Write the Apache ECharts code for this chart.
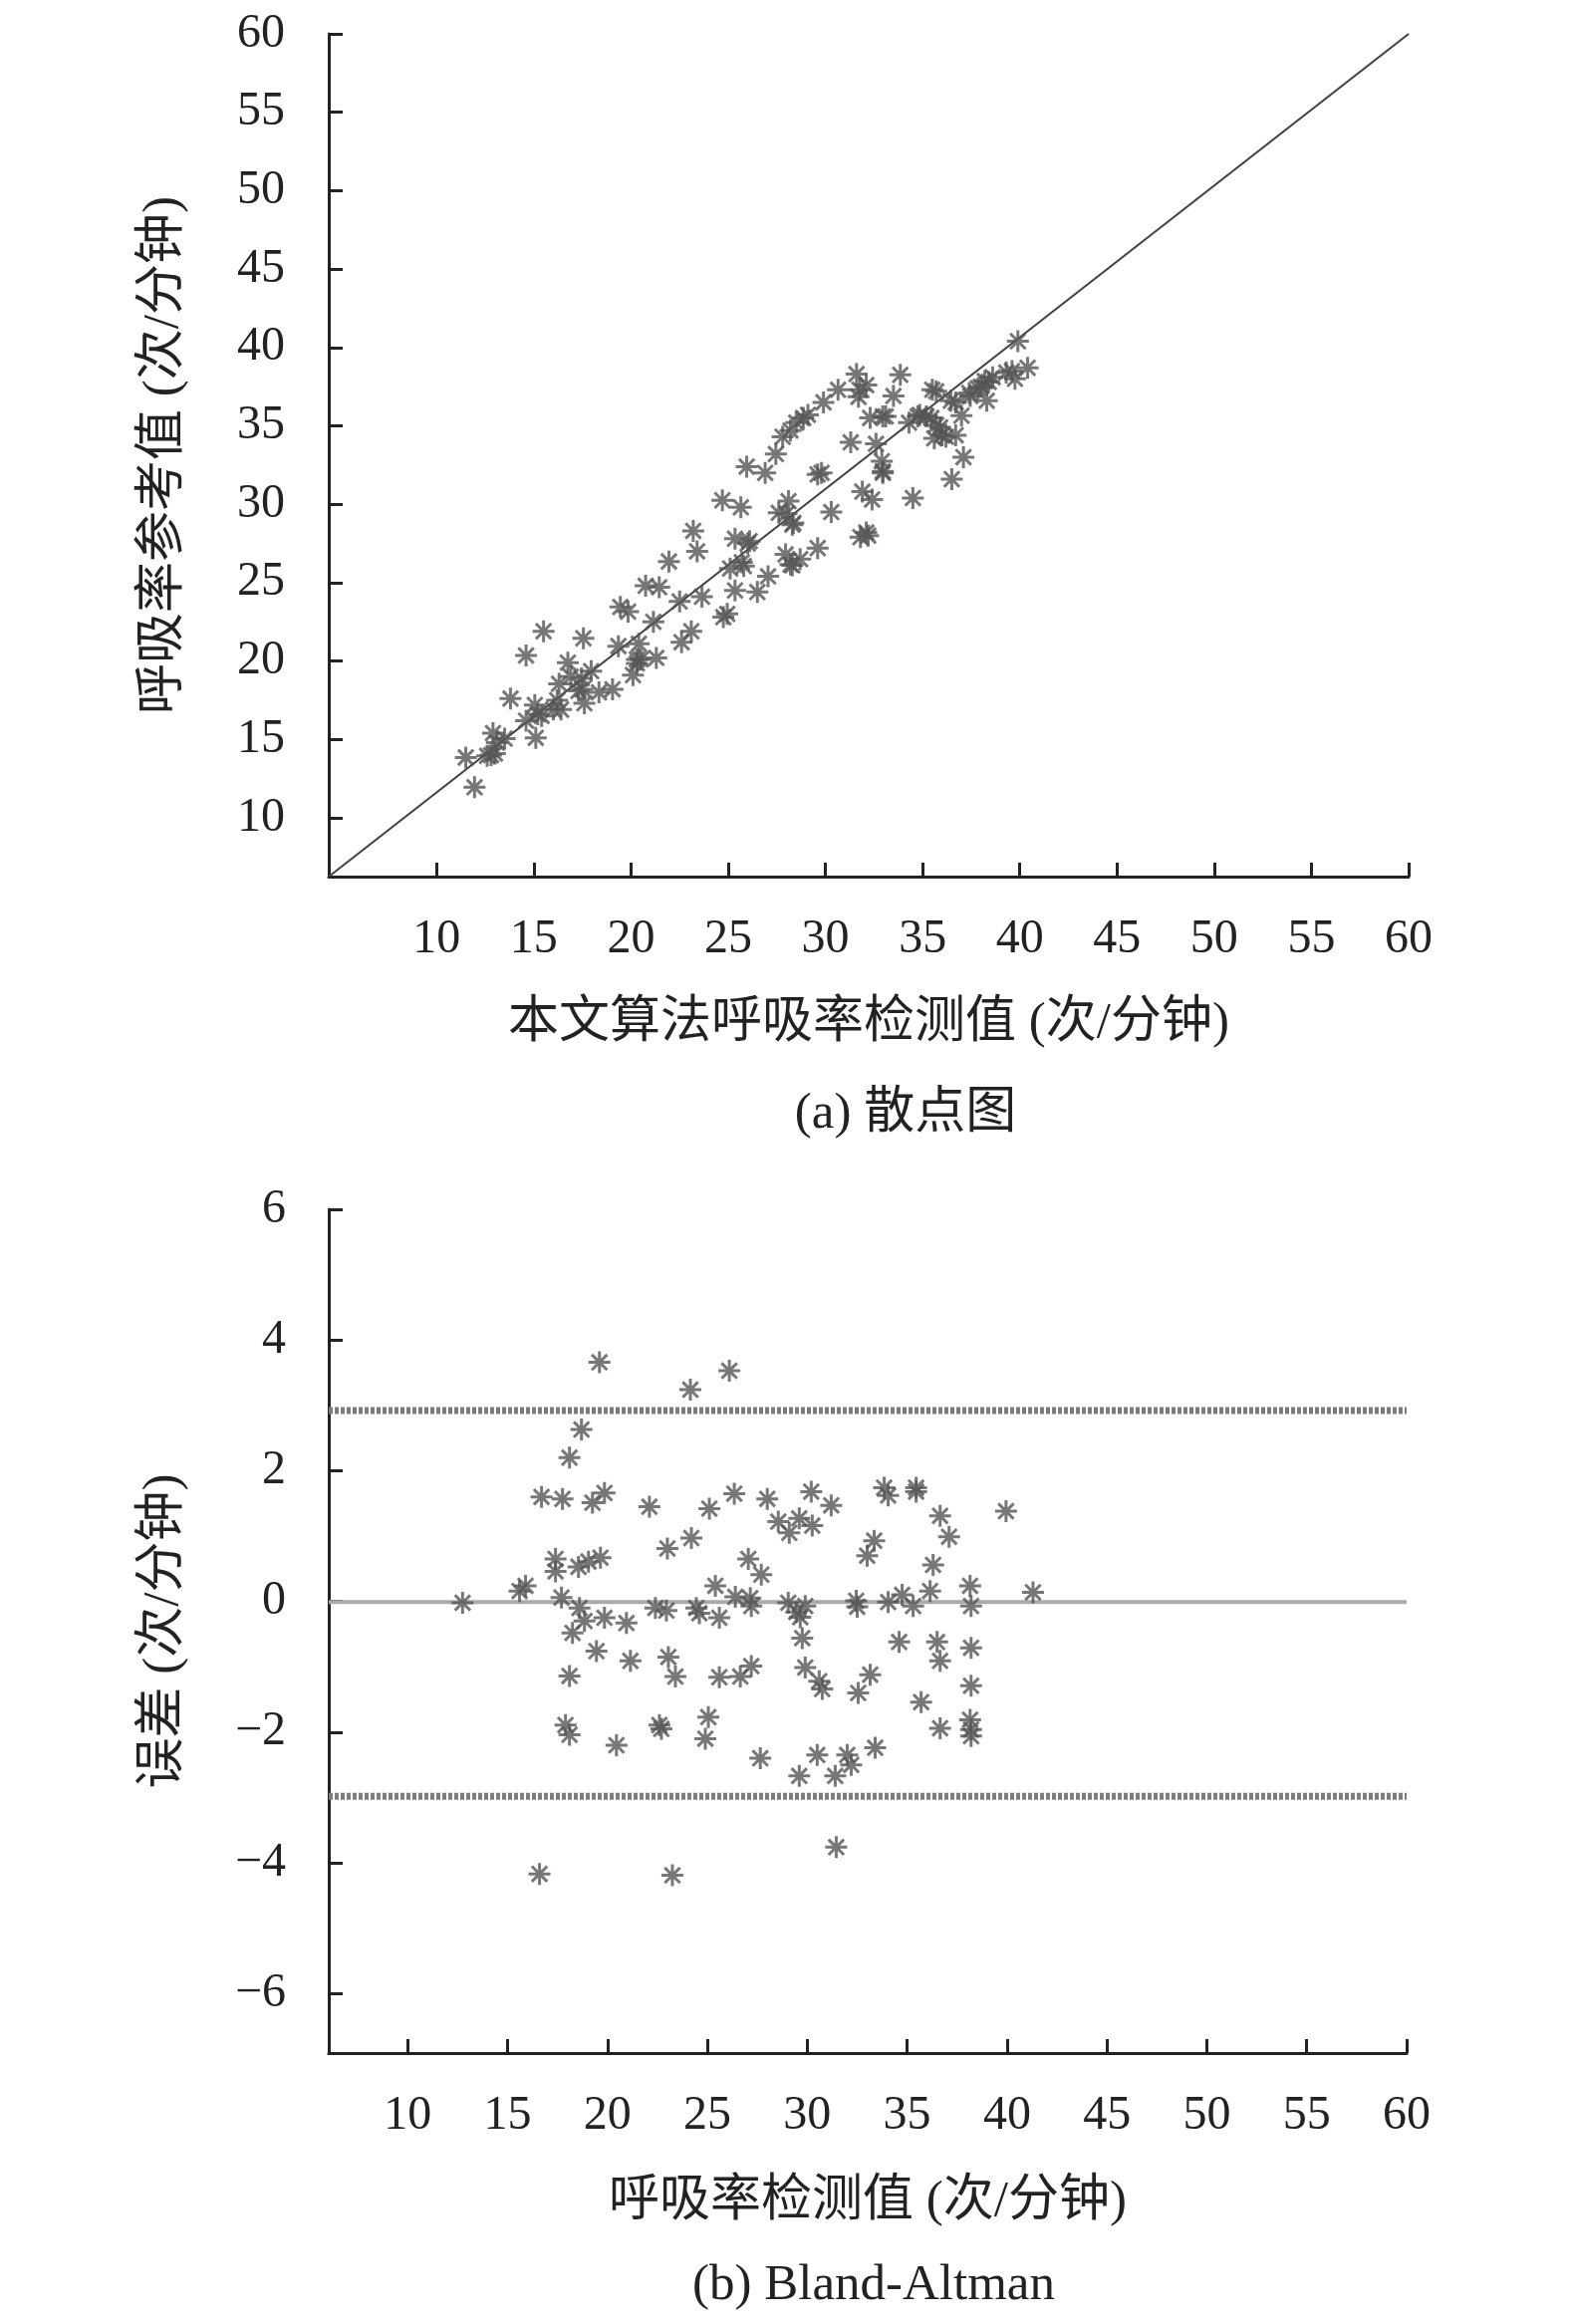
<!DOCTYPE html>
<html><head><meta charset="utf-8">
<script src="https://cdn.jsdelivr.net/npm/echarts@6/dist/echarts.min.js"></script>
<style>html,body{margin:0;padding:0;background:#fff}#c{width:1575px;height:2333px}</style>
</head><body><div id="c"></div>
<script>
// ---- tick labels ----
const xTicks = [10, 15, 20, 25, 30, 35, 40, 45, 50, 55, 60];
const yTicksTop = [10, 15, 20, 25, 30, 35, 40, 45, 50, 55, 60];
const yTicksBottom = [-6, -4, -2, 0, 2, 4, 6];

// ---- (a) scatter: detected value vs reference value ----
const detected = [11.5,11.95,12.6,13.0,12.9,13.1,13.5,13.8,14.6,14.6,15.1,15.05,15.5,15.4,16.0,16.2,16.3,16.75,16.9,17.3,17.5,17.55,17.45,17.95,18.35,19.05,19.35,19.45,19.85,20.1,20.3,20.5,20.4,20.75,21.15,21.3,21.45,21.95,22.5,22.6,23.1,23.2,23.4,23.65,24.7,24.75,24.95,25.1,25.35,25.35,25.65,25.7,25.95,26.0,26.5,26.9,27.05,27.45,27.8,27.95,28.1,28.2,28.3,28.35,28.5,28.7,29.1,28.0,29.6,29.8,29.9,30.3,30.65,31.3,31.6,31.7,31.8,31.9,32.1,32.2,32.4,32.3,32.6,32.9,32.95,33.1,33.5,33.85,34.5,34.3,34.85,35.5,35.45,35.6,35.9,36.2,36.5,36.7,36.7,37.0,37.1,37.45,37.85,38.2,38.3,38.6,39.6,39.75,39.9,40.4,36.0,35.2,35.7,34.75,32.95,32.1,31.76,29.6,28.86,28.3,27.6,28.2,25.8,37.4,38.0,36.45,35.7,39.3,38.4,32.95,26.1,15.2,16.4,17.6,20.3,12.8];
const reference = [13.85,11.95,13.95,14.1,15.4,14.8,15.05,17.6,20.35,16.2,15.1,17.2,21.9,16.5,16.9,17.5,18.55,19.9,19.0,18.1,18.2,21.45,18.9,19.35,18.0,18.2,20.95,23.45,23.15,19.1,19.85,20.1,21.1,24.8,22.5,20.2,24.7,26.35,23.8,21.2,21.9,28.3,27.0,24.1,30.25,22.8,23.0,25.9,27.8,24.5,29.8,26.3,32.4,27.5,24.4,32.0,25.4,33.2,34.3,26.8,30.2,34.7,26.1,28.8,35.2,26.5,35.7,29.4,27.2,32.0,36.5,29.5,37.3,33.95,38.3,36.85,27.9,30.8,37.6,28.0,30.3,35.5,33.85,32.75,32.0,35.6,36.9,38.25,30.4,35.2,35.7,37.3,35.5,34.2,34.9,34.3,31.6,36.5,34.4,35.65,33.0,36.9,37.4,37.85,36.6,38.1,38.5,38.0,40.4,38.7,34.4,35.6,35.05,35.6,32.1,28.2,37.3,31.9,35.5,28.7,29.45,26.15,26.05,37.1,37.5,36.6,37.2,38.4,37.8,35.6,27.65,16.6,16.9,17.3,20.1,14.0];
const fitLine = [[4.45, 6.25], [60, 60]];

// ---- (b) Bland-Altman ----
const baMean = [12.75,15.6,15.9,16.6,16.7,17.4,17.4,17.75,17.7,17.9,18.1,18.1,18.1,18.25,18.55,18.6,18.7,18.85,19.05,19.25,19.45,19.6,19.65,19.85,19.85,20.45,20.95,21.15,22.1,22.4,22.6,22.7,22.95,23.0,23.05,23.25,23.4,24.15,24.2,24.45,24.6,24.9,25.05,25.1,25.4,25.6,25.6,26.1,26.35,26.4,26.65,27.05,27.15,27.2,27.2,27.7,27.65,28.0,28.55,29.1,29.05,29.45,29.6,29.6,29.65,29.75,29.9,29.9,30.2,30.25,30.5,30.6,30.75,31.2,31.4,31.45,32.0,32.2,32.45,32.5,32.55,33.0,33.15,33.35,33.4,33.85,34.05,34.05,34.6,34.75,35.3,35.45,35.45,35.7,36.15,36.3,36.5,36.65,36.65,36.65,37.1,38.15,38.2,38.2,38.2,38.15,38.2,38.2,39.95,41.3];
const baDiff = [-0.02,0.16,0.24,-4.17,1.6,0.65,0.46,1.57,0.06,-1.89,-1.14,2.2,-2.04,-0.48,0.53,-0.1,2.63,-0.3,0.61,1.51,-0.76,3.66,0.67,-0.25,1.66,-2.2,-0.33,-0.91,1.45,-0.1,-1.89,-1.95,-0.14,0.81,-0.85,-4.19,-1.15,3.24,0.97,-0.1,-0.18,-2.1,-1.77,1.42,0.24,-0.25,-1.16,3.53,1.65,0.07,-1.15,0.65,0.05,-0.07,-0.99,0.41,-2.4,1.57,1.22,1.05,-0.02,-0.16,-2.67,1.27,-0.24,-0.56,-0.07,-1.01,1.68,1.16,-2.35,-1.22,-1.34,1.47,-2.67,-3.76,-2.35,-2.5,0.01,-0.08,-1.4,0.7,-1.12,0.93,-2.24,1.74,1.62,-0.01,-0.62,0.1,-0.07,1.74,1.68,-1.54,0.16,0.56,-0.62,1.31,-0.91,-1.94,0.99,0.24,-0.07,-0.71,-1.29,-1.81,-1.96,-2.06,1.38,0.14];
const meanDiff = -0.01;
const upperLoA = 2.92;
const lowerLoA = -2.98;

const SERIF = "'Liberation Serif','Times New Roman','Noto Sans CJK SC',serif";
const TXT = '#222';
const STAR = 'path://M10,0L10,20M0,10L20,10M3,3L17,17M3,17L17,3';

const scatterData = detected.map((x, i) => [x, reference[i]]);
const baData = baMean.map((x, i) => [x, baDiff[i]]);

const tickStyle = (vals) => ({ show: true, inside: true, length: 14, lineStyle: { color: TXT, width: 3 }, customValues: vals });
const labelStyle = (vals, margin) => ({ color: TXT, fontFamily: SERIF, fontSize: 48, margin: margin, customValues: vals,
  formatter: v => String(v).replace('-', '\u2212') });

function axisCommon(extra) {
  return Object.assign({
    type: 'value',
    axisLine: { show: true, onZero: false, lineStyle: { color: TXT, width: 3 } },
    splitLine: { show: false },
    nameTextStyle: { color: TXT, fontFamily: SERIF, fontSize: 51 },
    nameLocation: 'middle'
  }, extra);
}

const starStyle = { color: 'rgba(0,0,0,0)', borderColor: '#555', borderWidth: 3 };
const capStyle = { color: TXT, fontFamily: SERIF, fontSize: 51, fontWeight: 'normal' };
const loaStyle = { color: '#7d7d7d', width: 7, type: [4, 2] };

const option = {
  backgroundColor: '#fff',
  animation: false,
  title: [
    { text: '(a) 散点图', left: 904, top: 1088, textAlign: 'center', textStyle: capStyle },
    { text: '(b) Bland-Altman', left: 872, top: 2264, textAlign: 'center', textStyle: capStyle }
  ],
  grid: [
    { left: 330, top: 34, width: 1084, height: 846 },
    { left: 330, top: 1214, width: 1082, height: 847 }
  ],
  xAxis: [
    axisCommon({ gridIndex: 0, min: 4.45, max: 60, axisTick: tickStyle(xTicks), axisLabel: labelStyle(xTicks, 39),
      name: '本文算法呼吸率检测值 (次/分钟)', nameGap: 122 }),
    axisCommon({ gridIndex: 1, min: 6.05, max: 60, axisTick: tickStyle(xTicks), axisLabel: labelStyle(xTicks, 39),
      name: '呼吸率检测值 (次/分钟)', nameGap: 124 })
  ],
  yAxis: [
    axisCommon({ gridIndex: 0, min: 6.25, max: 60, axisTick: tickStyle(yTicksTop), axisLabel: labelStyle(yTicksTop, 44),
      name: '呼吸率参考值 (次/分钟)', nameGap: 140 }),
    axisCommon({ gridIndex: 1, min: -6.91, max: 6, axisTick: tickStyle(yTicksBottom), axisLabel: labelStyle(yTicksBottom, 43),
      name: '误差 (次/分钟)', nameGap: 140 })
  ],
  series: [
    { type: 'line', xAxisIndex: 0, yAxisIndex: 0, data: fitLine, symbol: 'none',
      lineStyle: { color: '#444', width: 2.2 }, z: 1 },
    { type: 'scatter', xAxisIndex: 0, yAxisIndex: 0, data: scatterData,
      symbol: STAR, symbolSize: 22, itemStyle: starStyle, z: 3 },
    { type: 'line', xAxisIndex: 1, yAxisIndex: 1, data: [[6.05, meanDiff], [60, meanDiff]], symbol: 'none',
      lineStyle: { color: '#aaaaaa', width: 4 }, z: 1 },
    { type: 'line', xAxisIndex: 1, yAxisIndex: 1, data: [[6.05, upperLoA], [60, upperLoA]], symbol: 'none',
      lineStyle: loaStyle, z: 1 },
    { type: 'line', xAxisIndex: 1, yAxisIndex: 1, data: [[6.05, lowerLoA], [60, lowerLoA]], symbol: 'none',
      lineStyle: loaStyle, z: 1 },
    { type: 'scatter', xAxisIndex: 1, yAxisIndex: 1, data: baData,
      symbol: STAR, symbolSize: 22, itemStyle: starStyle, z: 3 }
  ]
};

const chart = echarts.init(document.getElementById('c'), null, { renderer: 'canvas' });
chart.setOption(option);
</script>
</body></html>
